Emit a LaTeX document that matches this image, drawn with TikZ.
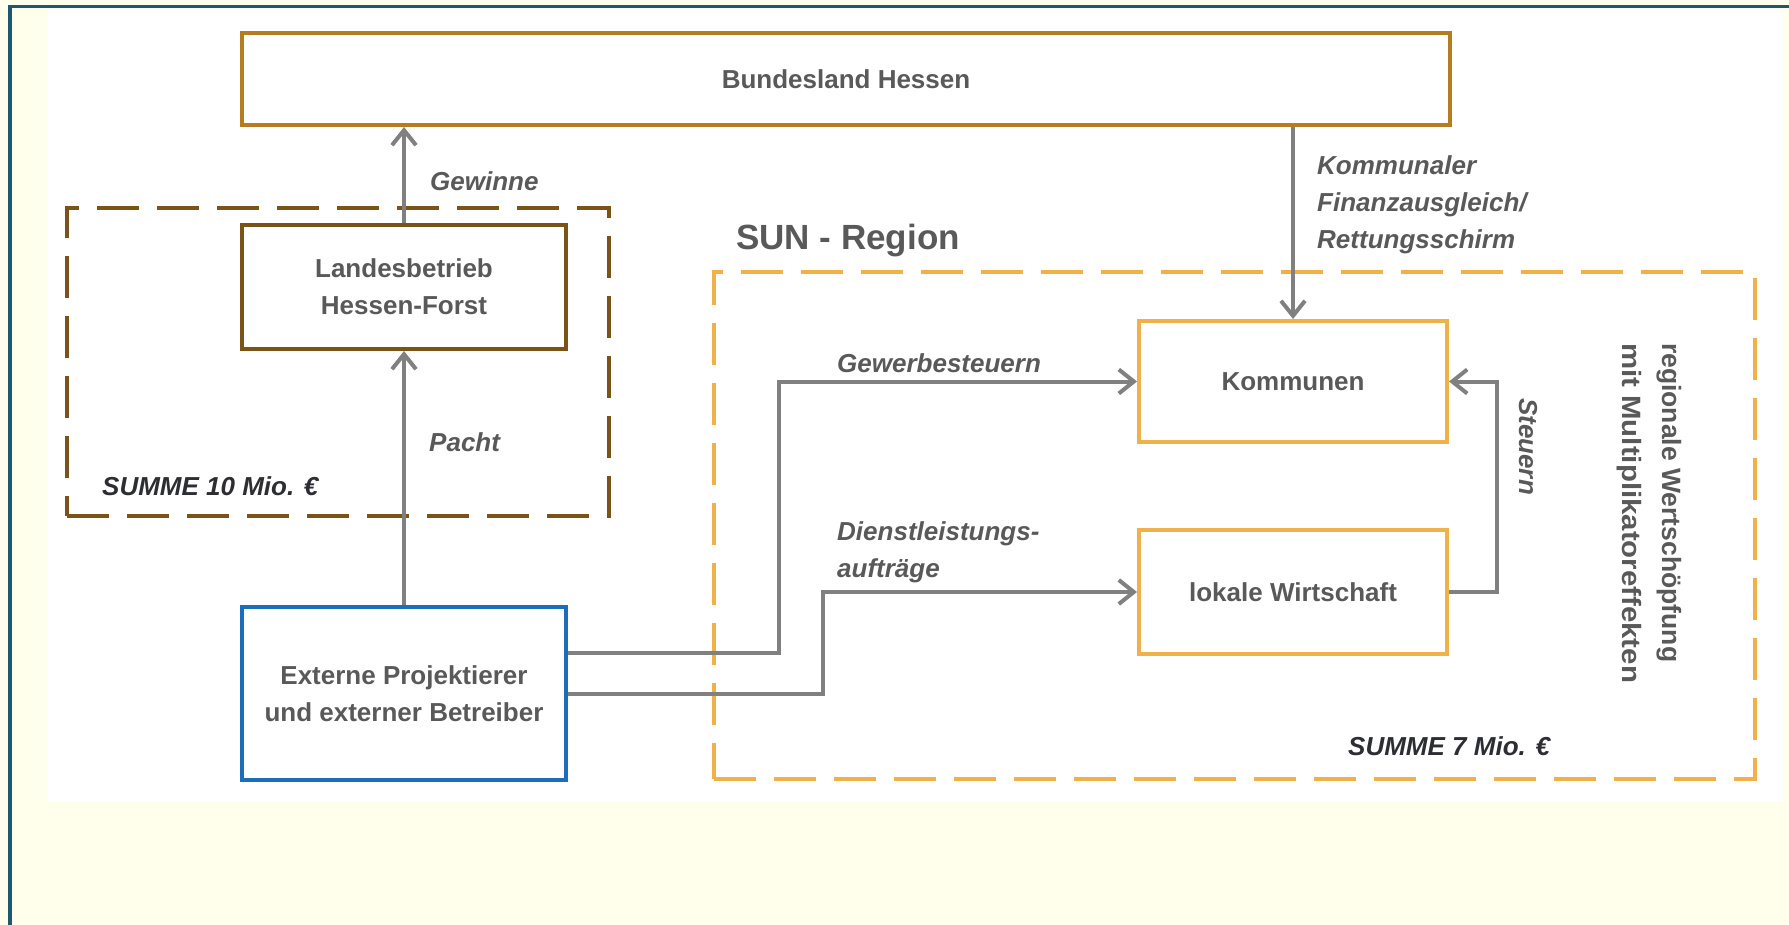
\documentclass[tikz,border=0pt]{standalone}
\usepackage{fontspec}
\setmainfont{Liberation Sans}
\usetikzlibrary{arrows.meta}
\definecolor{creambg}{RGB}{255,255,236}
\definecolor{framecol}{RGB}{30,88,110}
\definecolor{bundcol}{RGB}{182,124,34}
\definecolor{browncol}{RGB}{122,84,22}
\definecolor{orangecol}{RGB}{240,178,72}
\definecolor{bluecol}{RGB}{28,110,186}
\definecolor{arrowgray}{RGB}{128,128,128}
\definecolor{textgray}{RGB}{89,89,89}
\definecolor{darktext}{RGB}{45,45,52}
\begin{document}
\begin{tikzpicture}[x=1pt,y=-1pt,
  boxfont/.style={font=\fontsize{26}{37}\selectfont\bfseries},
  lblfont/.style={font=\fontsize{26}{37}\selectfont\bfseries\itshape},
  box/.style={draw, line width=4pt, inner sep=0pt, align=center, text=textgray, boxfont},
  grpbox/.style={line width=4.5pt, dash pattern=on 42pt off 18pt, inner sep=0pt},
  arr/.style={draw=arrowgray, line width=4pt, -{Straight Barb[length=15pt,width=24pt]}},
  lbl/.style={anchor=base west, inner sep=0pt, text=textgray, lblfont},
  sumlbl/.style={anchor=base west, inner sep=0pt, text=darktext, lblfont}
]
\useasboundingbox (0,0) rectangle (1789,925);
% background and frame
\fill[creambg] (0,0) rectangle (1789,925);
\fill[white] (47,10) rectangle (1783,802);
\draw[framecol, line width=3pt] (8,7) -- (1789,7);
\draw[framecol, line width=4pt] (10,5.5) -- (10,925);

% group boxes
\node[grpbox, draw=browncol, minimum width=542pt, minimum height=308pt] (grpforst) at (338,362) {};
\node[grpbox, draw=orangecol, minimum width=1041pt, minimum height=507pt] (grpsun) at (1234.5,525.5) {};

% main boxes
\node[box, draw=bundcol, minimum width=1208pt, minimum height=92pt] (bund) at (846,79) {Bundesland Hessen};
\node[box, draw=browncol, minimum width=324pt, minimum height=124pt] (landes) at (404,287) {Landesbetrieb\\Hessen-Forst};
\node[box, draw=bluecol, minimum width=324pt, minimum height=173pt] (ext) at (404,693.5) {Externe Projektierer\\und externer Betreiber};
\node[box, draw=orangecol, minimum width=308pt, minimum height=121pt] (kom) at (1293,381.5) {Kommunen};
\node[box, draw=orangecol, minimum width=308pt, minimum height=124pt] (lok) at (1293,592) {lokale Wirtschaft};

% connectors
\coordinate (j1) at (779,381.5);
\coordinate (j2) at (823,592);
\draw[arr] (landes.north) -- (landes.north |- bund.south);
\draw[arr] (ext.north) -- (landes.south);
\draw[arr] (kom.north |- bund.south) -- (kom.north);
\draw[arr] ([yshift=40.5pt]ext.east) -| (j1) -- (kom.west);
\draw[arr] (ext.east) -| (j2) -- (lok.west);
\draw[arr] (lok.east) -- ++(48,0) |- (kom.east);

% labels
\node[lbl] (lgewinne) at (430,191) {Gewinne};
\node[lbl] (lpacht) at (429,451) {Pacht};
\node[sumlbl] (lsum10) at (102,495) {SUMME 10 Mio. €};
\node[anchor=base west, inner sep=0pt, text=textgray, font=\fontsize{35}{40}\selectfont\bfseries] (lsun) at (736,250) {SUN - Region};
\node[lbl] (lkfa) at (1317,175) {\vtop{\hbox{Kommunaler}\hbox{Finanzausgleich/}\hbox{Rettungsschirm}}};
\node[lbl] (lgew) at (837,372) {Gewerbesteuern};
\node[lbl] (ldienst) at (837,540) {\vtop{\hbox{Dienstleistungs-}\hbox{aufträge}}};
\node[lbl, rotate=-90] (lsteuern) at (1519,398) {Steuern};
\node[anchor=base west, inner sep=0pt, rotate=-90, text=textgray, font=\fontsize{26.5}{40}\selectfont\bfseries] (lregio) at (1662,343) {\vtop{\hbox{regionale Wertschöpfung}\hbox{\scalebox{1.11}[1]{mit Multiplikatoreffekten}}}};
\node[sumlbl] (lsum7) at (1348,755) {SUMME 7 Mio. €};
\end{tikzpicture}
\end{document}
